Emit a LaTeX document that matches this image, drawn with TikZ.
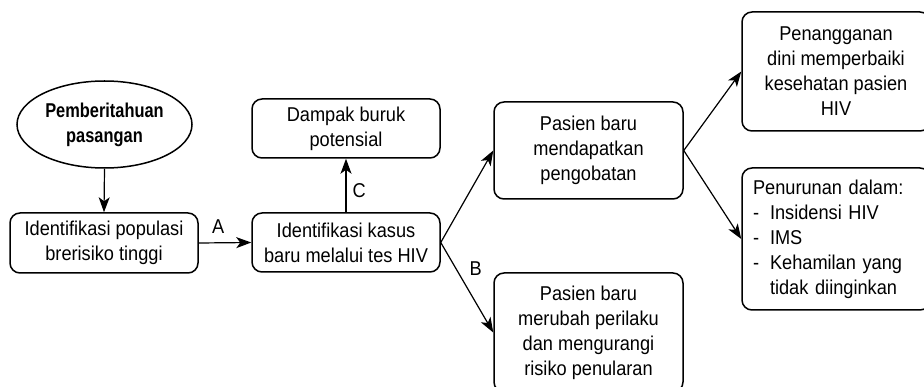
\documentclass[tikz,border=0pt]{standalone}
\usepackage{fontspec}
\setmainfont{Liberation Sans}[FakeStretch=0.91]
\newfontfamily\tebal{Liberation Sans Bold}[FakeStretch=0.82]
\usetikzlibrary{shapes.geometric,arrows.meta}

\tikzset{
	kotak/.style={draw, rounded corners=10pt, line width=1.5pt, align=center, minimum width=188pt, inner sep=4pt},
	panah/.style={line width=1.2pt, -{Stealth[length=15pt,width=11pt,inset=4pt]}},
	huruf/.style={inner sep=2pt},
}
\newcommand{\strip}{\makebox[17pt][l]{-}}

\begin{document}
\begin{tikzpicture}[x=1pt,y=-1pt,font=\fontsize{20pt}{25pt}\selectfont]
	\useasboundingbox (0,0) rectangle (924,387);
	\clip (0,0) rectangle (924,387);

	\node[ellipse, draw, line width=1.5pt, minimum width=175pt, minimum height=87pt, inner sep=0pt, align=center, font=\fontsize{20pt}{25pt}\selectfont\tebal] (pasangan) at (104.5,124.5) {Pemberitahuan\\pasangan};

	\node[kotak, minimum height=60pt] (populasi) at (104,243) {Identifikasi populasi\\brerisiko tinggi};
	\node[kotak, minimum height=59pt] (kasus) at (346,242.5) {Identifikasi kasus\\baru melalui tes HIV};
	\node[kotak, minimum height=59pt] (dampak) at (346,128.5) {Dampak buruk\\potensial};

	\node[kotak, minimum width=189pt, minimum height=97pt] (obat) at (588.5,150.5) {Pasien baru\\mendapatkan\\pengobatan};
	\node[kotak, minimum width=189pt, minimum height=119pt] (perilaku) at (588.5,332.5) {Pasien baru\\merubah perilaku\\dan mengurangi\\risiko penularan};

	\node[kotak, minimum height=119pt] (sehat) at (836,71.5) {Penangganan\\dini memperbaiki\\kesehatan pasien\\HIV};
	% daftar rata kiri
	\node[kotak, minimum height=142pt, text width=166pt, align=left, inner xsep=11pt] (turun) at (836,239) {Penurunan dalam:\\\strip Insidensi HIV\\\strip IMS\\\strip Kehamilan yang\\\hspace*{17pt}tidak diinginkan};

	\draw[panah] (pasangan.south) -- (populasi.north);
	\draw[panah] (populasi.east) -- (kasus.west) node[huruf, pos=0.37, above=7pt] (lblA) {A};
	\draw[panah] (kasus.north) -- (dampak.south) node[huruf, pos=0.4, right=4pt] (lblC) {C};
	\draw[panah] (kasus.east) -- (obat.west);
	\draw[panah] (kasus.east) -- (perilaku.west) node[huruf, pos=0.29, right=11pt] (lblB) {B};
	\draw[panah] (obat.east) -- (sehat.west);
	\draw[panah] (obat.east) -- (turun.west);
\end{tikzpicture}
\end{document}
